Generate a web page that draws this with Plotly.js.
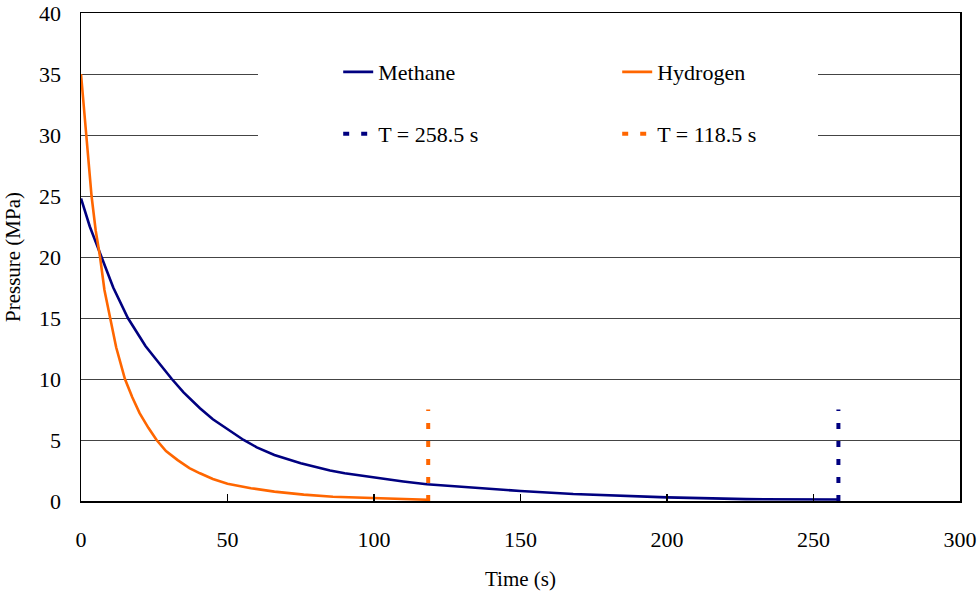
<!DOCTYPE html>
<html>
<head>
<meta charset="utf-8">
<script src="https://cdn.plot.ly/plotly-3.0.1.min.js"></script>
<style>html,body{margin:0;padding:0;background:#fff;}#chart{width:979px;height:595px;}</style>
</head>
<body>
<div id="chart"></div>
<script>
// Methane blowdown curve (time s, pressure MPa)
const methaneT = [0, 3, 7, 11, 16, 22, 26, 31, 35, 40.6, 45, 50, 55.5, 60, 66, 75, 85, 90, 100, 110, 118, 126, 135, 150, 168, 180, 200, 227, 240, 258.5];
const methaneP = [24.8, 22.5, 20, 17.5, 15, 12.7, 11.5, 10, 8.9, 7.6, 6.7, 5.9, 5, 4.4, 3.77, 3.09, 2.5, 2.27, 1.91, 1.6, 1.37, 1.23, 1.05, 0.82, 0.57, 0.45, 0.3, 0.15, 0.13, 0.12];
// Hydrogen blowdown curve
const hydrogenT = [0, 1.7, 3.6, 5, 6.5, 8, 9.9, 12, 15, 17.5, 20, 23, 25.8, 29, 33, 37, 40.6, 45, 50, 58, 66, 76, 86, 100, 110, 118.5];
const hydrogenP = [35, 30, 25, 22.2, 20, 17.3, 15, 12.6, 10, 8.5, 7.2, 6, 5, 4.1, 3.35, 2.7, 2.27, 1.8, 1.42, 1.05, 0.77, 0.52, 0.35, 0.22, 0.15, 0.1];
// Blowdown end times
const endTimes = [258.5, 118.5];
const endMarkerTop = 7.5;
const endLabels = ['T = 258.5 s', 'T = 118.5 s'];
const seriesNames = ['Methane', 'Hydrogen'];
const xTitle = 'Time (s)';
const yTitle = 'Pressure (MPa)';

const NAVY = '#000080', ORANGE = '#FF6600';
const FONT = '"Liberation Serif", "Times New Roman", serif';

const traces = [
  {x: methaneT, y: methaneP, mode: 'lines', name: seriesNames[0], line: {color: NAVY, width: 2.6}, legend: 'legend'},
  {x: hydrogenT, y: hydrogenP, mode: 'lines', name: seriesNames[1], line: {color: ORANGE, width: 2.6}, legend: 'legend'},
  {x: [endTimes[0], endTimes[0]], y: [0, endMarkerTop], mode: 'lines', name: endLabels[0], line: {color: NAVY, width: 4, dash: '6px,12px'}, legend: 'legend2'},
  {x: [endTimes[1], endTimes[1]], y: [0, endMarkerTop], mode: 'lines', name: endLabels[1], line: {color: ORANGE, width: 4, dash: '6px,12px'}, legend: 'legend2'}
];

const legendCommon = {
  orientation: 'h', xanchor: 'left', yanchor: 'middle',
  bgcolor: 'rgba(0,0,0,0)', borderwidth: 0,
  entrywidth: 234, entrywidthmode: 'pixels',
  font: {family: FONT, size: 22, color: '#000'}
};

const layout = {
  width: 979, height: 595,
  margin: {l: 81, r: 19, t: 13, b: 94},
  paper_bgcolor: '#fff', plot_bgcolor: '#fff',
  font: {family: FONT, size: 21, color: '#000'},
  showlegend: true,
  hovermode: false,
  legend: Object.assign({}, legendCommon, {x: 0.2926, y: 0.879}),
  legend2: Object.assign({}, legendCommon, {x: 0.2926, y: 0.752}),
  xaxis: {
    range: [0, 300], dtick: 50, tick0: 0,
    ticks: 'inside', ticklen: 7, tickwidth: 1.2, tickcolor: '#000',
    showline: true, linecolor: '#000', linewidth: 1.5, mirror: true,
    showgrid: false, zeroline: false,
    ticklabelstandoff: 18,
    tickfont: {family: FONT, size: 22},
    title: {text: xTitle, font: {family: FONT, size: 21}, standoff: 20}
  },
  yaxis: {
    range: [0, 40], dtick: 5, tick0: 0,
    ticks: '', showline: true, linecolor: '#000', linewidth: 1.5, mirror: true,
    showgrid: true, gridcolor: '#444', gridwidth: 1, zeroline: false,
    ticklabelstandoff: 14,
    tickfont: {family: FONT, size: 22},
    title: {text: yTitle, font: {family: FONT, size: 21}, standoff: 12}
  },
  shapes: [
    {type: 'rect', xref: 'paper', yref: 'paper', x0: (258 - 81) / 879, x1: (818 - 81) / 879, y0: 0.71, y1: 0.925, fillcolor: '#fff', line: {width: 0}, layer: 'above'}
  ]
};

Plotly.newPlot('chart', traces, layout, {displayModeBar: false, staticPlot: true});
</script>
</body>
</html>
